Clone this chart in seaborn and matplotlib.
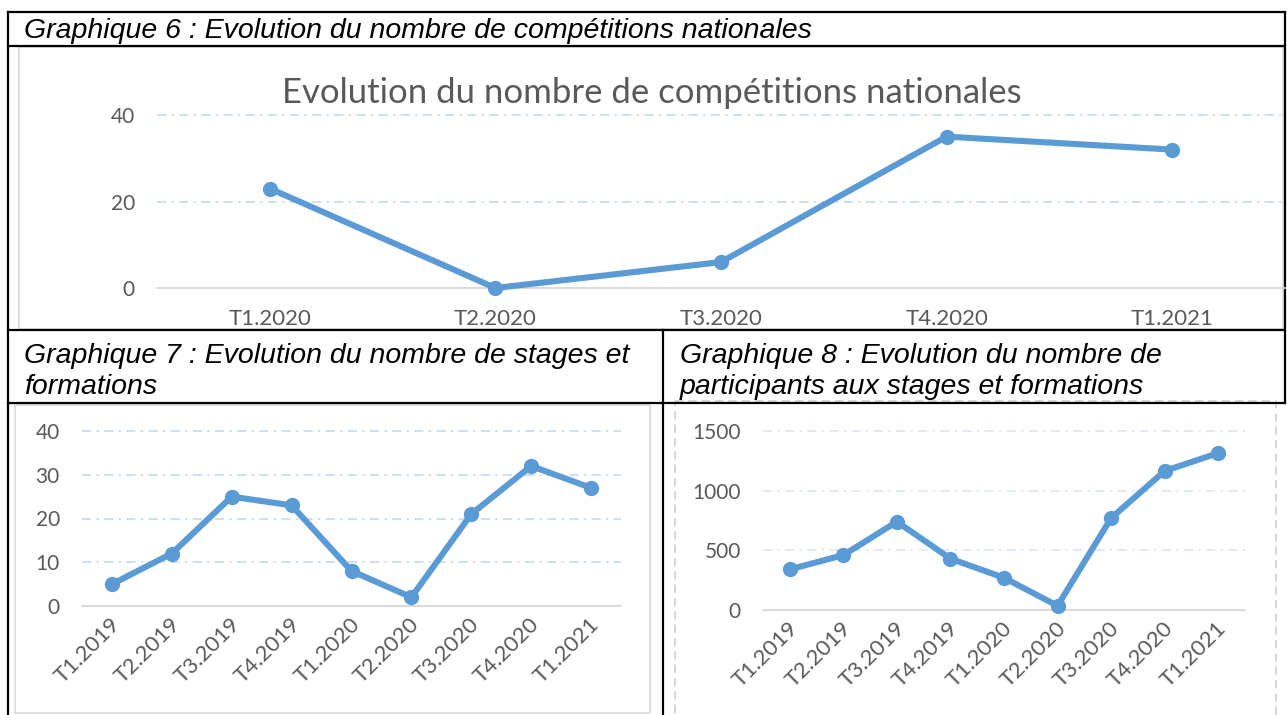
import matplotlib
matplotlib.use("Agg")
import matplotlib.pyplot as plt
from matplotlib.transforms import ScaledTranslation
import pandas as pd
import seaborn as sns

# --- data ---
trim_g6 = ["T1.2020", "T2.2020", "T3.2020", "T4.2020", "T1.2021"]
competitions = [23, 0, 6, 35, 32]

trim_g78 = ["T1.2019", "T2.2019", "T3.2019", "T4.2019", "T1.2020",
            "T2.2020", "T3.2020", "T4.2020", "T1.2021"]
stages = [5, 12, 25, 23, 8, 2, 21, 32, 27]
participants = [340, 460, 740, 430, 270, 35, 770, 1165, 1315]

yticks_g6 = [0, 20, 40]
yticks_g7 = [0, 10, 20, 30, 40]
yticks_g8 = [0, 500, 1000, 1500]

caption_6 = "Graphique 6 : Evolution du nombre de compétitions nationales"
caption_7 = ["Graphique 7 : Evolution du nombre de stages et", "formations"]
caption_8 = ["Graphique 8 : Evolution du nombre de", "participants aux stages et formations"]
title_6 = "Evolution du nombre de compétitions nationales"

BLUE = "#5B9BD5"
TXT = "#595959"
W, H = 1287, 715

sns.set_theme(style="white")
plt.rcParams["font.family"] = ["Lato", "DejaVu Sans"]

fig = plt.figure(figsize=(W / 100, H / 100), dpi=100)
fig.patch.set_facecolor("white")

# background axes in pixel coordinates for the document table
bg = fig.add_axes([0, 0, 1, 1], zorder=0)
bg.set_xlim(0, W)
bg.set_ylim(H, 0)
bg.axis("off")


def px_axes(x0, y0, x1, y1):
    ax = fig.add_axes([x0 / W, 1 - y1 / H, (x1 - x0) / W, (y1 - y0) / H], zorder=2)
    ax.patch.set_alpha(0)
    return ax


def rect(x0, y0, x1, y1, **kw):
    bg.plot([x0, x1, x1, x0, x0], [y0, y0, y1, y1, y0], **kw)


# chart frames (light gray)
rect(19, 47, 1283, 329, color="#D9D9D9", lw=1.2)
rect(15, 405, 650, 713, color="#D9D9D9", lw=1.2)
rect(675, 401, 1276, 716, color="#D0D0D0", lw=1.2, linestyle=(0, (5, 3)))

# table lines (black)
blk = dict(color="black", lw=1.6, solid_capstyle="projecting")
for y in [12, 46, 330, 403]:
    bg.plot([8, 1285], [y, y], **blk)
bg.plot([8, 8], [12, 715], **blk)
bg.plot([1285, 1285], [12, 403], **blk)
bg.plot([663, 663], [330, 715], **blk)

cap = dict(family=["Liberation Sans", "DejaVu Sans"], style="italic", fontsize=20.5,
           color="black", va="baseline", ha="left")
bg.text(24, 38, caption_6, **cap)
bg.text(24, 363, caption_7[0], **cap)
bg.text(24, 394, caption_7[1], **cap)
bg.text(680, 363, caption_8[0], **cap)
bg.text(680, 394, caption_8[1], **cap)

bg.text(652, 93, title_6, fontsize=25, color=TXT, ha="center", va="center")


def draw(ax, labels, values, yticks, grid_color, rotate, ypad):
    df = pd.DataFrame({"trimestre": labels, "valeur": values})
    sns.lineplot(data=df, x="trimestre", y="valeur", sort=False, ax=ax,
                 color=BLUE, lw=4.4, marker="o", markersize=11,
                 markeredgewidth=0, clip_on=False, zorder=5)
    ax.set_xlim(-0.5, len(labels) - 0.5)
    ax.set_ylim(yticks[0], yticks[-1])
    ax.set_yticks(yticks)
    ax.set_xlabel("")
    ax.set_ylabel("")
    for s in ax.spines.values():
        s.set_visible(False)
    ax.yaxis.grid(True, color=grid_color, lw=1.1,
                  linestyle=(0, (6, 3.5, 1.5, 3.5)))
    for gl in ax.get_ygridlines():
        gl.set_clip_on(False)
    ax.get_ygridlines()[0].set_visible(False)
    ax.axhline(yticks[0], color="#D9D9D9", lw=1.4, clip_on=False, zorder=1)
    ax.tick_params(axis="y", length=0, pad=ypad, labelsize=15, labelcolor=TXT)
    if rotate:
        ax.tick_params(axis="x", length=0, pad=11, labelsize=16, labelcolor=TXT)
        for lab in ax.get_xticklabels():
            lab.set_rotation(45)
            lab.set_ha("right")
            lab.set_va("center")
            lab.set_rotation_mode("anchor")
            lab.set_transform(lab.get_transform()
                              + ScaledTranslation(5 / 100, 0, fig.dpi_scale_trans))
    else:
        ax.tick_params(axis="x", length=0, pad=15, labelsize=16, labelcolor=TXT)


ax6 = px_axes(157, 115, 1285, 288)
draw(ax6, trim_g6, competitions, yticks_g6, "#BDD7EE", False, 16)

ax7 = px_axes(82, 431, 621, 606)
draw(ax7, trim_g78, stages, yticks_g7, "#BDD7EE", True, 16)

ax8 = px_axes(763, 431, 1245, 610)
draw(ax8, trim_g78, participants, yticks_g8, "#DAE3F3", True, 16)

fig.savefig("out.png", dpi=100, facecolor="white")
